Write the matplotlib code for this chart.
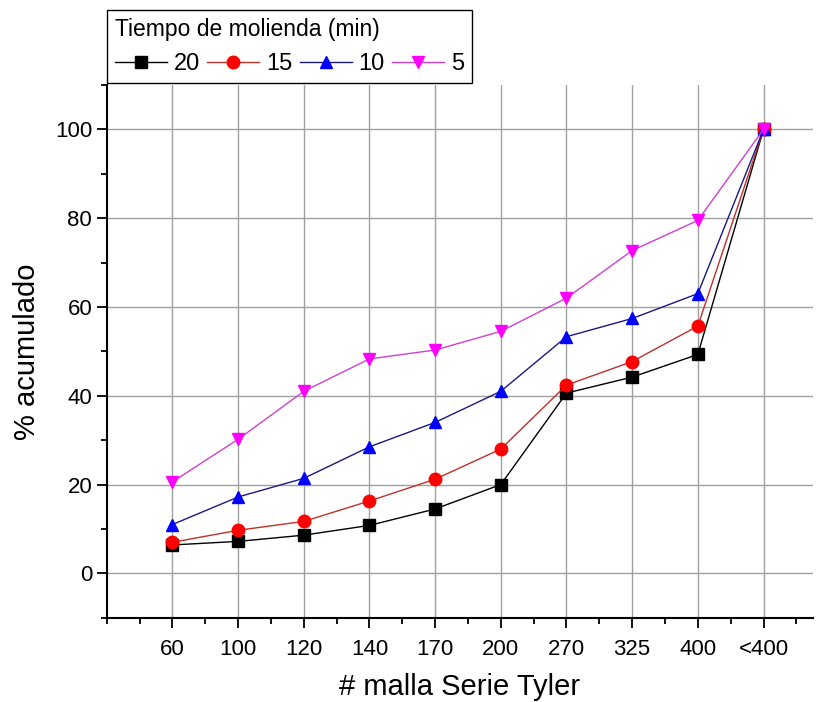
import numpy as np
from matplotlib import pyplot as plt
from matplotlib.ticker import MultipleLocator

plt.rcParams['font.family'] = ['Liberation Sans', 'DejaVu Sans']

mallas = ['60', '100', '120', '140', '170', '200', '270', '325', '400', '<400']
t20 = [6.4, 7.2, 8.6, 10.8, 14.5, 20.0, 40.6, 44.2, 49.3, 100]
t15 = [7.0, 9.7, 11.7, 16.3, 21.2, 28.0, 42.4, 47.7, 55.7, 100]
t10 = [11.0, 17.2, 21.4, 28.5, 34.0, 41.0, 53.3, 57.4, 63.0, 100]
t5 = [20.6, 30.2, 41.0, 48.3, 50.3, 54.5, 62.0, 72.7, 79.5, 100]

x = np.arange(1, len(mallas) + 1)

fig = plt.figure(figsize=(8.21, 7.02), dpi=100)
ax = fig.add_axes([0.130, 0.120, 0.860, 0.759])

ax.plot(x, t20, color='black', marker='s', markersize=8, lw=1, label='20')
ax.plot(x, t15, color='#c0302a', marker='o', markersize=9, lw=1,
        markerfacecolor='red', markeredgecolor='red', label='15')
ax.plot(x, t10, color='#1a1a80', marker='^', markersize=9, lw=1,
        markerfacecolor='blue', markeredgecolor='blue', label='10')
ax.plot(x, t5, color='#d040d0', marker='v', markersize=9, lw=1,
        markerfacecolor='magenta', markeredgecolor='magenta', label='5')

ax.set_xlim(0, 10.75)
ax.set_ylim(-10, 110)
ax.set_xticks(x)
ax.set_xticklabels(mallas)
ax.xaxis.set_minor_locator(MultipleLocator(0.5))
ax.yaxis.set_major_locator(MultipleLocator(20))
ax.yaxis.set_minor_locator(MultipleLocator(10))
ax.tick_params(which='major', length=7, width=1.3, direction='out', labelsize=16)
ax.tick_params(which='minor', length=4, width=1.3, direction='out')
ax.tick_params(axis='x', pad=8)
ax.grid(True, which='major', color='#a0a0a0', lw=1)
ax.set_axisbelow(True)
for s in ['top', 'right']:
    ax.spines[s].set_visible(False)
for s in ['left', 'bottom']:
    ax.spines[s].set_linewidth(1.5)

ax.set_xlabel('# malla Serie Tyler', fontsize=21, labelpad=10)
ax.set_ylabel('% acumulado', fontsize=21, labelpad=10)

leg = fig.legend(loc='upper left', bbox_to_anchor=(0.130, 0.986), ncol=4,
                 title='Tiempo de molienda (min)', title_fontsize=16.5, fontsize=17,
                 fancybox=False, edgecolor='black', framealpha=1,
                 handlelength=2.2, handletextpad=0.3, columnspacing=0.3,
                 borderpad=0.35, borderaxespad=0, alignment='left')
leg.get_frame().set_linewidth(1)

fig.savefig('out.png', dpi=100)
